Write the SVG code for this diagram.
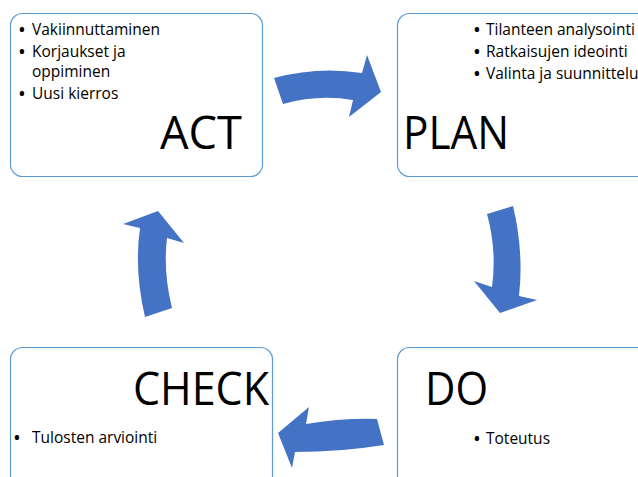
<svg xmlns="http://www.w3.org/2000/svg" width="638" height="477" viewBox="0 0 638 477">
  <style>
    .box { fill: #ffffff; stroke: #5b9bd5; stroke-width: 1.2; }
    .item { font-family: "Open Sans", "Noto Sans", "DejaVu Sans", sans-serif; font-size: 15.5px; fill: #000000; }
    .dot { font-size: 15.5px; font-weight: bold; }
    .title { font-family: "Open Sans", "Noto Sans", "DejaVu Sans", sans-serif; font-size: 46px; fill: #000000; }
    .flow { fill: #4472c4; }
  </style>
  <rect width="638" height="477" fill="#ffffff"/>

  <g id="act">
    <rect class="box" x="10.5" y="13.5" width="252" height="163" rx="12"/>
    <text class="item" x="19" y="35"><tspan class="dot">•</tspan><tspan x="32">Vakiinnuttaminen</tspan></text>
    <text class="item" x="19" y="57"><tspan class="dot">•</tspan><tspan x="32">Korjaukset ja</tspan></text>
    <text class="item" x="32" y="77">oppiminen</text>
    <text class="item" x="19" y="99"><tspan class="dot">•</tspan><tspan x="32">Uusi kierros</tspan></text>
    <text class="title" x="160" y="149" textLength="82" lengthAdjust="spacingAndGlyphs">ACT</text>
  </g>

  <g id="plan">
    <rect class="box" x="397.5" y="13.5" width="270" height="163" rx="12"/>
    <text class="item" x="474" y="35"><tspan class="dot">•</tspan><tspan x="486">Tilanteen analysointi</tspan></text>
    <text class="item" x="474" y="57"><tspan class="dot">•</tspan><tspan x="486">Ratkaisujen ideointi</tspan></text>
    <text class="item" x="474" y="79"><tspan class="dot">•</tspan><tspan x="486">Valinta ja suunnittelu</tspan></text>
    <text class="title" x="403" y="149" textLength="106" lengthAdjust="spacingAndGlyphs">PLAN</text>
  </g>

  <g id="check">
    <rect class="box" x="10.5" y="347.5" width="262" height="160" rx="12"/>
    <text class="title" x="133" y="405" textLength="136" lengthAdjust="spacingAndGlyphs">CHECK</text>
    <text class="item" x="14" y="443"><tspan class="dot">•</tspan><tspan x="32">Tulosten arviointi</tspan></text>
  </g>

  <g id="do">
    <rect class="box" x="397.5" y="347.5" width="270" height="160" rx="12"/>
    <text class="title" x="425" y="405" textLength="63" lengthAdjust="spacingAndGlyphs">DO</text>
    <text class="item" x="474" y="444"><tspan class="dot">•</tspan><tspan x="486">Toteutus</tspan></text>
  </g>

  <g id="connectors">
    <!-- ACT to PLAN -->
    <path class="flow" d="M274,78 Q318,66 362,73 L367,55 L381,92 L349,117 L353,100 Q318,94 283,104 Z"/>
    <!-- PLAN to DO -->
    <path class="flow" d="M487,214 L513,206 Q524,252 519,296 L537,300 L500,313 L474,281 L492,287 Q497,250 487,214 Z"/>
    <!-- DO to CHECK -->
    <path class="flow" d="M377,419 Q342,418 306,424 L309,407 L278,433 L292,468 L295,452 Q340,452 384,445 Z"/>
    <!-- CHECK to ACT -->
    <path class="flow" d="M145,317 Q134,270 140,228 L123,224 L158,211 L184,243 L167,238 Q163,272 172,308 Z"/>
  </g>
</svg>
